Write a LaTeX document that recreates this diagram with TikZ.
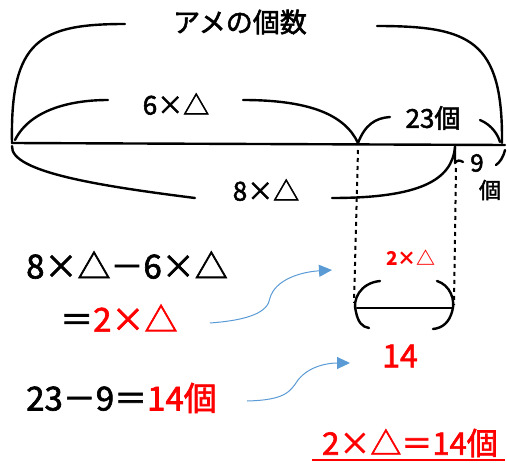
\documentclass[tikz,border=0pt]{standalone}
\usepackage{fontspec}
\setmainfont{Noto Sans CJK JP}
\newfontfamily\handfont{Noto Sans CJK JP}[FakeBold=2]
\usetikzlibrary{arrows.meta}
\definecolor{handred}{RGB}{255,0,0}
\definecolor{arrowblue}{RGB}{91,155,213}
\tikzset{
  hand/.style={line width=2.4pt, line cap=round, line join=round},
  guide/.style={line width=2pt, dash pattern=on 4pt off 4pt},
  pointer/.style={arrowblue, line width=1pt, -{Triangle[length=13pt,width=12pt]}},
  label/.style={inner sep=0pt, font=\fontsize{26}{28}\selectfont\handfont},
  sum/.style={inner sep=0pt, anchor=west, font=\fontsize{33}{35}\selectfont\handfont},
}
\begin{document}
\begin{tikzpicture}[x=1pt, y=-1pt]
  \useasboundingbox (0,0) rectangle (507,463);

  % bar and braces
  \draw[hand] (12,143) -- (505,145);
  \draw[hand] (12,143) .. controls (10,40) and (40,24) .. (125,24);
  \draw[hand] (377,26) .. controls (470,26) and (503,40) .. (502,143);
  \draw[hand] (15,140) .. controls (30,110) and (70,100) .. (108,100);
  \draw[hand] (243,100) .. controls (310,100) and (345,115) .. (358,143);
  \draw[hand] (358,143) .. controls (365,125) and (375,118) .. (390,117);
  \draw[hand] (480,120) .. controls (492,125) and (498,135) .. (500,142);
  \draw[hand] (12,146) .. controls (10,172) and (100,186) .. (195,198);
  \draw[hand] (332,198) .. controls (420,198) and (452,180) .. (455,147);
  \draw[hand] (455,145) -- (455,163) .. controls (457,160) and (460,160) .. (463,162);
  \draw[hand] (505,150) .. controls (503,158) and (500,162) .. (496,165);

  % the part 2 x triangle
  \draw[guide] (358,150) -- (354,303);
  \draw[guide] (456,168) -- (454,305);
  \draw[hand] (380,281) .. controls (360,283) and (352,300) .. (356,312)
              .. controls (358,322) and (362,327) .. (369,328);
  \draw[hand] (437,281) .. controls (450,285) and (456,300) .. (452,312)
              .. controls (449,322) and (443,328) .. (433,329);
  \draw[hand] (357,308) -- (452,308);

  % labels
  \node[inner sep=0pt, font=\fontsize{27}{29}\selectfont\handfont] (title) at (240,22) {アメの個数};
  \node[label] (six) at (176,104) {6×△};
  \node[label] (twentythree) at (433,118) {23個};
  \node[label] (eight) at (266,190) {8×△};
  \node[label, font=\fontsize{24}{26}\selectfont\handfont] (nine) at (477,163) {9};
  \node[label, font=\fontsize{22}{24}\selectfont\handfont] (ninepiece) at (490,190) {個};
  \node[label, text=handred, font=\fontsize{19}{21}\selectfont\bfseries] (twotri) at (411,258) {2×△};
  \node[label, text=handred, font=\fontsize{32}{34}\selectfont\handfont] (fourteen) at (400,356) {14};

  % working
  \node[sum] (diff) at (26,265) {8×△－6×△};
  \node[sum] (equals) at (60,318) {＝\textcolor{handred}{2×△}};
  \node[sum] (count) at (26,398) {23－9＝\textcolor{handred}{14個}};
  \node[sum, anchor=center, text=handred, font=\fontsize{31}{33}\selectfont\handfont] (answer) at (410,443) {2×△＝14個};
  \draw[handred, line width=1.5pt] (312,460) -- (505,460);

  % pointers
  \coordinate (from1) at (210,323);
  \coordinate (to1) at (332,270);
  \coordinate (from2) at (247,401);
  \coordinate (to2) at (350,363);
  \draw[pointer] (from1) .. controls (250,320) and (268,312) .. (270,298)
                 .. controls (275,280) and (300,272) .. (to1);
  \draw[pointer] (from2) .. controls (285,400) and (290,392) .. (298,380)
                 .. controls (310,365) and (330,363) .. (to2);
\end{tikzpicture}
\end{document}
